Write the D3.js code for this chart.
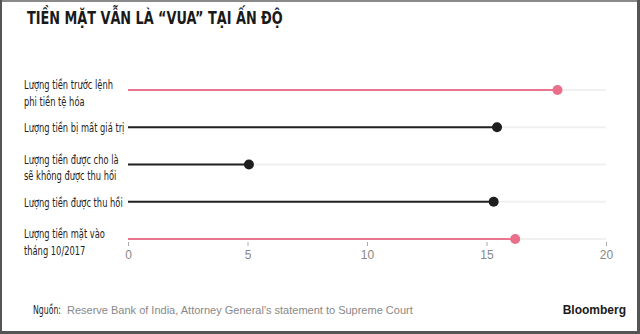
<!DOCTYPE html>
<html>
<head>
<meta charset="utf-8">
<script src="https://cdn.jsdelivr.net/npm/d3@7"></script>
<style>
	body { margin: 0; background: #fff; }
	svg { display: block; }
</style>
</head>
<body>
<div id="chartDiv"></div>
<script>
var labels = [
	["Lượng tiền trước lệnh", "phi tiền tệ hóa"],
	["Lượng tiền bị mất giá trị"],
	["Lượng tiền được cho là", "sẽ không được thu hồi"],
	["Lượng tiền được thu hồi"],
	["Lượng tiền mặt vào", "tháng 10/2017"]
];
var values = [17.97, 15.44, 5.06, 15.3, 16.2];
var highlight = [true, false, false, false, true];
var ticks = [0, 5, 10, 15, 20];

var width = 640, height = 334;
var condensed = "'Liberation Sans Narrow', 'DejaVu Sans Condensed', 'Roboto Condensed', sans-serif";

var svg = d3.select("#chartDiv").append("svg")
	.attr("width", width).attr("height", height);

// frame
svg.append("rect").attr("x", 0).attr("y", 0).attr("width", width).attr("height", 2).attr("fill", "#8a8a8a");
svg.append("rect").attr("x", 0).attr("y", 0).attr("width", 2).attr("height", height).attr("fill", "#555");
svg.append("rect").attr("x", 637).attr("y", 0).attr("width", 3).attr("height", height).attr("fill", "#555");
svg.append("rect").attr("x", 0).attr("y", 331).attr("width", width).attr("height", 3).attr("fill", "#555");

// squeeze a text so it spans a given width (no condensed font available)
function fitWidth(sel, w) {
	sel.each(function() {
		var bb = this.getBBox();
		var s = w / bb.width;
		var x0 = +d3.select(this).attr("x");
		d3.select(this).attr("transform", "translate(" + x0 * (1 - s) + ",0) scale(" + s + ",1)");
	});
}

svg.append("text")
	.attr("x", 27).attr("y", 24)
	.style("font-family", condensed)
	.style("font-weight", "bold")
	.style("font-size", "17px")
	.attr("fill", "#1a1a1a")
	.text("TIỀN MẶT VẪN LÀ “VUA” TẠI ẤN ĐỘ")
	.call(fitWidth, 256);

var x = d3.scaleLinear().domain([0, 20]).range([128, 606]);
var y = d3.scalePoint().domain(d3.range(values.length)).range([90, 239]);

var rows = svg.selectAll(".row").data(values).enter()
	.append("g").attr("class", "row")
	.attr("transform", function(d, i) { return "translate(0," + y(i) + ")"; });

rows.append("line")
	.attr("x1", x(0)).attr("x2", x(20))
	.attr("stroke", "#f0f0f0").attr("stroke-width", 2);

rows.append("line")
	.attr("x1", x(0)).attr("x2", function(d) { return x(d); })
	.attr("stroke", function(d, i) { return highlight[i] ? "#e9768f" : "#222"; })
	.attr("stroke-width", 2);

rows.append("circle")
	.attr("cx", function(d) { return x(d); })
	.attr("r", 5)
	.attr("fill", function(d, i) { return highlight[i] ? "#ea6f8b" : "#1e1e1e"; });

var labelScale = 0.74;
rows.append("g")
	.attr("transform", "translate(24,0) scale(" + labelScale + ",1)")
	.append("text")
	.style("font-family", condensed)
	.style("font-size", "12.5px")
	.attr("fill", "#222")
	.each(function(d, i) {
		var lines = labels[i];
		var t = d3.select(this);
		var y0 = lines.length === 1 ? 5 : -1;
		lines.forEach(function(s, k) {
			t.append("tspan").attr("x", 0).attr("y", y0 + k * 17).text(s);
		});
	});

var axis = d3.axisBottom(x).tickValues(ticks).tickSize(4).tickPadding(4);
var ax = svg.append("g").attr("transform", "translate(0,242)").call(axis);
ax.select(".domain").remove();
ax.selectAll(".tick line").attr("stroke", "#aaa");
ax.selectAll(".tick text")
	.style("font-family", "'Liberation Sans', Arial, sans-serif")
	.style("font-size", "12px")
	.attr("fill", "#888");

svg.append("text")
	.attr("x", 33).attr("y", 314)
	.style("font-family", condensed)
	.style("font-size", "11.5px")
	.attr("fill", "#222")
	.text("Nguồn:")
	.call(fitWidth, 28);
svg.append("text")
	.attr("x", 67).attr("y", 314)
	.style("font-family", "'Liberation Sans', Arial, sans-serif")
	.style("font-size", "11px")
	.attr("fill", "#888")
	.text("Reserve Bank of India, Attorney General's statement to Supreme Court");
svg.append("text")
	.attr("x", 626).attr("y", 314)
	.attr("text-anchor", "end")
	.style("font-family", "'Liberation Sans', Arial, sans-serif")
	.style("font-weight", "bold")
	.style("font-size", "12px")
	.attr("fill", "#1a1a1a")
	.text("Bloomberg");
</script>
</body>
</html>
